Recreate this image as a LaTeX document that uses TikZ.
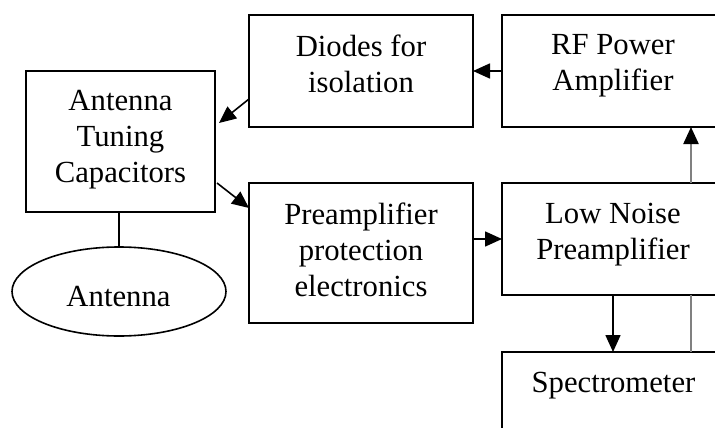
\documentclass[tikz,border=0pt]{standalone}
\usepackage{fontspec}
\setmainfont{Liberation Serif}
\usetikzlibrary{arrows.meta,shapes.geometric,calc}
\begin{document}
\begin{tikzpicture}[x=1pt,y=-1pt,
  box/.style={draw=black,line width=1.6pt,rectangle,inner sep=0pt,outer sep=0pt,anchor=north west},
  lbl/.style={inner sep=0pt,align=center,font=\fontsize{30.7}{36}\selectfont,text=black},
  arr/.style={draw=black,line width=1.6pt,-{Triangle[length=17pt,width=15pt]}},
  grayline/.style={draw=black!50,line width=2.2pt},
  plain/.style={draw=black,line width=1.6pt}]
\useasboundingbox (0,0) rectangle (715,428);
\clip (0,0) rectangle (715,428);
% boxes
\node[box,minimum width=224pt,minimum height=112pt] (diodes) at (249,15) {};
\node[box,minimum width=224pt,minimum height=112pt] (rf) at (502,15) {};
\node[box,minimum width=189pt,minimum height=141pt] (tuning) at (26,71) {};
\node[box,minimum width=224pt,minimum height=140pt] (prot) at (249,183) {};
\node[box,minimum width=224pt,minimum height=112pt] (lna) at (502,183) {};
\node[box,minimum width=224pt,minimum height=140pt] (spec) at (502,352) {};
\node[draw=black,line width=1.6pt,ellipse,inner sep=0pt,minimum width=214pt,minimum height=89pt] (antenna) at (119,291.5) {};
% labels
\node[lbl,anchor=north] (diodesT) at (361,34.5) {Diodes for\\isolation};
\node[lbl,anchor=north] (rfT) at (613,34.5) {RF Power\\Amplifier};
\node[lbl,anchor=north] (tuningT) at (120.5,90.5) {Antenna\\Tuning\\Capacitors};
\node[lbl,anchor=north] (protT) at (361,202.5) {Preamplifier\\protection\\electronics};
\node[lbl,anchor=north] (lnaT) at (613,202.5) {Low Noise\\Preamplifier};
\node[lbl,anchor=north] (specT) at (613.5,372) {Spectrometer};
\node[lbl,anchor=base] (antennaT) at (118.5,306) {Antenna};
% connectors
\coordinate (dOut) at ($(diodes.north west)+(0,84)$);
\coordinate (tIn) at ($(tuning.north east)+(4,52)$);
\draw[arr] (dOut) -- (tIn);
\coordinate (tOut) at ($(tuning.north east)+(2,112)$);
\coordinate (pIn) at ($(prot.north west)+(0,25)$);
\draw[arr] (tOut) -- (pIn);
\draw[arr] (rf.west) -- (diodes.east);
\draw[arr] (prot.east |- lna.west) -- (lna.west);
\draw[arr] (lna.south -| 613,0) -- (spec.north -| 613,0);
\draw[plain] (tuning.south -| antenna.north) -- (antenna.north);
\draw[grayline] (spec.north -| 691,0) -- (lna.south -| 691,0);
\draw[grayline,-{Triangle[length=17pt,width=15pt,color=black]}] (lna.north -| 691,0) -- (rf.south -| 691,0);
\end{tikzpicture}
\end{document}
